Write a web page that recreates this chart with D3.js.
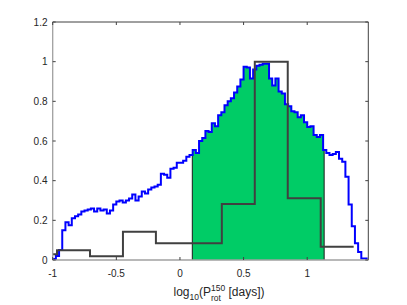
<!DOCTYPE html>
<html lang="en">
<head>
<meta charset="utf-8">
<script src="https://d3js.org/d3.v7.min.js"></script>
<style>
    body { margin: 0; background: #fff; }
    text { font-family: "Liberation Sans", Arial, sans-serif; fill: #262626; }
</style>
</head>
<body>
<svg width="407" height="305"></svg>
<script>
    // blue histogram: bins of 0.025 starting at -1
    const blueStart = -1;
    const blueWidth = 0.025;
    const blueValues = [
        0.005, 0.02, 0.05, 0.15, 0.19, 0.175, 0.21, 0.22, 0.23, 0.245,
        0.25, 0.255, 0.26, 0.245, 0.26, 0.25, 0.255, 0.235, 0.25, 0.28,
        0.295, 0.3, 0.29, 0.3, 0.31, 0.33, 0.30, 0.32, 0.345, 0.335,
        0.355, 0.365, 0.37, 0.38, 0.435, 0.43, 0.415, 0.46, 0.465, 0.49,
        0.49, 0.50, 0.52, 0.53, 0.555, 0.54, 0.6, 0.615, 0.65, 0.645,
        0.69, 0.675, 0.73, 0.745, 0.78, 0.80, 0.815, 0.845, 0.875, 0.91,
        0.975, 0.97, 0.915, 0.96, 0.98, 0.985, 0.99, 0.99, 0.915, 0.88,
        0.915, 0.85, 0.84, 0.785, 0.775, 0.75, 0.745, 0.72, 0.73, 0.695,
        0.67, 0.675, 0.63, 0.62, 0.63, 0.555, 0.54, 0.53, 0.535, 0.545,
        0.51, 0.495, 0.42, 0.28, 0.17, 0.084, 0.04, 0.008, 0.008
    ];

    // gray histogram (coarse bins)
    const grayEdges = [-1.225, -0.966, -0.707, -0.448, -0.189, 0.070, 0.329, 0.588, 0.847, 1.106, 1.365];
    const grayValues = [0.029, 0.049, 0.019, 0.143, 0.084, 0.084, 0.282, 1.0, 0.311, 0.067];

    // shaded interval under the blue curve
    const fillRange = [0.097, 1.133];

    const xTicks = [-1, -0.5, 0, 0.5, 1];
    const xTickLabels = ["-1", "-0.5", "0", "0.5", "1"];
    const yTicks = [0, 0.2, 0.4, 0.6, 0.8, 1, 1.2];
    const yTickLabels = ["0", "0.2", "0.4", "0.6", "0.8", "1", "1.2"];

    const svg = d3.select("svg");
    const x = d3.scaleLinear().domain([-1, 1.48]).range([52.7, 368.3]);
    const y = d3.scaleLinear().domain([0, 1.2]).range([260, 22]);

    svg.append("clipPath").attr("id", "plot")
        .append("rect")
        .attr("x", x(-1)).attr("y", y(1.2))
        .attr("width", x(1.48) - x(-1)).attr("height", y(0) - y(1.2));

    svg.append("clipPath").attr("id", "fill")
        .append("rect")
        .attr("x", x(fillRange[0])).attr("y", y(1.2))
        .attr("width", x(fillRange[1]) - x(fillRange[0])).attr("height", y(0) - y(1.2));

    // step points for blue curve
    let bluePts = blueValues.map((v, i) => [blueStart + i * blueWidth, v]);
    bluePts.push([blueStart + blueValues.length * blueWidth, blueValues[blueValues.length - 1]]);

    let grayPts = grayValues.map((v, i) => [grayEdges[i], v]);
    grayPts.push([grayEdges[grayEdges.length - 1], grayValues[grayValues.length - 1]]);

    function valueAt(v) {
        let i = Math.floor((v - blueStart) / blueWidth);
        return blueValues[Math.max(0, Math.min(blueValues.length - 1, i))];
    }

    let plot = svg.append("g").attr("clip-path", "url(#plot)");

    // green shaded area
    plot.append("path")
        .attr("clip-path", "url(#fill)")
        .attr("d", d3.area().curve(d3.curveStepAfter)
            .x(d => x(d[0])).y0(y(0)).y1(d => y(d[1]))(bluePts))
        .attr("fill", "#00cc66");

    plot.selectAll("line.edge")
        .data(fillRange)
        .join("line")
        .attr("class", "edge")
        .attr("x1", d => x(d)).attr("x2", d => x(d))
        .attr("y1", y(0)).attr("y2", d => y(valueAt(d)))
        .attr("stroke", "#1a1a1a").attr("stroke-width", 1);

    let line = d3.line().curve(d3.curveStepAfter).x(d => x(d[0])).y(d => y(d[1]));

    plot.append("path")
        .attr("d", line(bluePts))
        .attr("fill", "none").attr("stroke", "#0000ff").attr("stroke-width", 2);

    plot.append("path")
        .attr("d", line(grayPts))
        .attr("fill", "none").attr("stroke", "#404040").attr("stroke-width", 2);

    // axes box
    let ax = svg.append("g");
    ax.append("line").attr("x1", x(-1)).attr("x2", x(1.48)).attr("y1", y(1.2)).attr("y2", y(1.2))
        .attr("stroke", "#404040").attr("stroke-width", 1);
    ax.append("line").attr("x1", x(1.48)).attr("x2", x(1.48)).attr("y1", y(1.2)).attr("y2", y(0))
        .attr("stroke", "#404040").attr("stroke-width", 1);
    ax.append("line").attr("x1", x(-1)).attr("x2", x(1.48)).attr("y1", y(0)).attr("y2", y(0))
        .attr("stroke", "#a0a0a0").attr("stroke-width", 1.3);
    ax.append("line").attr("x1", x(-1)).attr("x2", x(-1)).attr("y1", y(1.2)).attr("y2", y(0))
        .attr("stroke", "#a0a0a0").attr("stroke-width", 1.3);

    // ticks
    xTicks.forEach(t => {
        ax.append("line").attr("x1", x(t)).attr("x2", x(t)).attr("y1", y(0)).attr("y2", y(0) - 3)
            .attr("stroke", "#404040");
        ax.append("line").attr("x1", x(t)).attr("x2", x(t)).attr("y1", y(1.2)).attr("y2", y(1.2) + 3)
            .attr("stroke", "#404040");
    });
    yTicks.forEach(t => {
        ax.append("line").attr("x1", x(-1)).attr("x2", x(-1) + 3).attr("y1", y(t)).attr("y2", y(t))
            .attr("stroke", "#404040");
        ax.append("line").attr("x1", x(1.48)).attr("x2", x(1.48) - 3).attr("y1", y(t)).attr("y2", y(t))
            .attr("stroke", "#404040");
    });

    ax.selectAll("text.xt")
        .data(xTicks)
        .join("text")
        .attr("class", "xt")
        .attr("x", d => x(d)).attr("y", 277)
        .attr("text-anchor", "middle")
        .attr("font-size", 10)
        .text((d, i) => xTickLabels[i]);

    ax.selectAll("text.yt")
        .data(yTicks)
        .join("text")
        .attr("class", "yt")
        .attr("x", 47.5).attr("y", d => y(d) + 3.6)
        .attr("text-anchor", "end")
        .attr("font-size", 10)
        .text((d, i) => yTickLabels[i]);

    // x label: log10(P^150_rot [days])
    let lab = ax.append("text")
        .attr("x", 219).attr("y", 296)
        .attr("text-anchor", "middle")
        .attr("font-size", 12);
    lab.append("tspan").text("log");
    lab.append("tspan").attr("font-size", 8.5).attr("dy", 3.5).text("10");
    lab.append("tspan").attr("dy", -3.5).text("(P");
    let sup = lab.append("tspan").attr("font-size", 8.5).attr("dy", -5.5).text("150");
    let sub = lab.append("tspan").attr("font-size", 8.5).attr("dy", 10).text("rot");
    let rest = lab.append("tspan").attr("dy", -4.5).text(" [days])");
    let supLen = sup.node().getComputedTextLength();
    let subLen = sub.node().getComputedTextLength();
    sub.attr("dx", -supLen);
    rest.attr("dx", supLen - subLen);
</script>
</body>
</html>
